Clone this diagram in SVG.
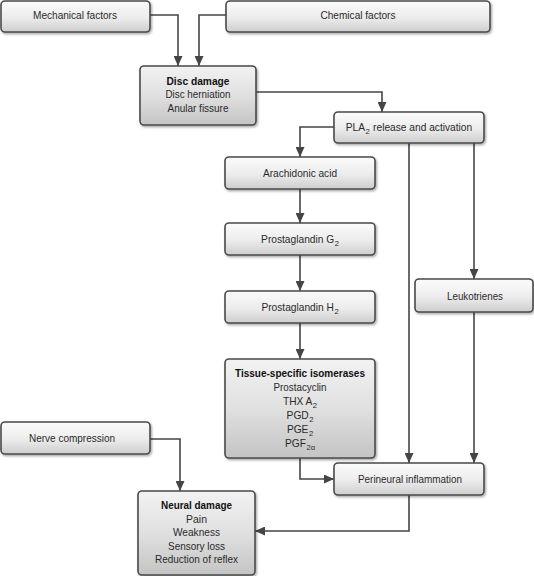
<svg xmlns="http://www.w3.org/2000/svg" width="534" height="576" viewBox="0 0 534 576">
<defs>
<linearGradient id="g" x1="0" y1="0" x2="0" y2="1">
<stop offset="0" stop-color="#fbfbfb"/>
<stop offset="0.55" stop-color="#ececec"/>
<stop offset="1" stop-color="#cdcdcd"/>
</linearGradient>
<linearGradient id="gb" x1="0" y1="0" x2="0" y2="1">
<stop offset="0" stop-color="#f2f2f2"/>
<stop offset="0.5" stop-color="#e0e0e0"/>
<stop offset="1" stop-color="#c4c4c4"/>
</linearGradient>
<filter id="sh" x="-10%" y="-10%" width="130%" height="140%">
<feDropShadow dx="1.2" dy="1.5" stdDeviation="0.9" flood-color="#000" flood-opacity="0.35"/>
</filter>
<marker id="ah" markerUnits="userSpaceOnUse" markerWidth="10" markerHeight="9" refX="10" refY="4.5" orient="auto">
<path d="M0,0 L10,4.5 L0,9 z" fill="#454545"/>
</marker>
</defs>
<style>
.b{fill:url(#g);stroke:#4a4a4a;stroke-width:1.6;filter:url(#sh)}
.bb{fill:url(#gb);stroke:#4a4a4a;stroke-width:1.6;filter:url(#sh)}
text{font-family:"Liberation Sans",Arial,sans-serif;font-size:11px;fill:#2a2a2a;text-anchor:middle}
.n{font-size:10.2px}
.t{font-weight:bold;fill:#111}
.s{font-size:7.6px}
.c{fill:none;stroke:#454545;stroke-width:1.6;marker-end:url(#ah)}
</style>
<g id="connectors">
<path class="c" d="M150,15 H178 V66"/>
<path class="c" d="M226,15 H199 V66"/>
<path class="c" d="M256,92 H382 V112"/>
<path class="c" d="M334,127 H300 V157"/>
<path class="c" d="M300,189 V223"/>
<path class="c" d="M300,255 V291"/>
<path class="c" d="M300,323 V359"/>
<path class="c" d="M409,143 V463"/>
<path class="c" d="M474,143 V279"/>
<path class="c" d="M474,312 V463"/>
<path class="c" d="M300,458 V479 H334"/>
<path class="c" d="M150,439 H180 V491"/>
<path class="c" d="M409,495 V531 H255"/>
</g>
<g id="mechanical">
<rect class="b" x="1" y="1" width="149" height="31" rx="4"/>
<text x="75" y="19" textLength="84" lengthAdjust="spacingAndGlyphs">Mechanical factors</text>
</g>
<g id="chemical">
<rect class="b" x="226" y="1" width="264" height="31" rx="4"/>
<text x="358" y="19" textLength="75" lengthAdjust="spacingAndGlyphs">Chemical factors</text>
</g>
<g id="disc">
<rect class="bb" x="140" y="66" width="116" height="59" rx="4"/>
<text class="t" x="198" y="85" textLength="63" lengthAdjust="spacingAndGlyphs">Disc damage</text>
<text x="198" y="98" textLength="65" lengthAdjust="spacingAndGlyphs">Disc herniation</text>
<text x="198" y="112" textLength="61" lengthAdjust="spacingAndGlyphs">Anular fissure</text>
</g>
<g id="pla2">
<rect class="b" x="334" y="112" width="150" height="31" rx="4"/>
<text class="n" x="409" y="131">PLA<tspan class="s" dx="0.5" dy="3">2</tspan><tspan dx="0.5" dy="-3"> release and activation</tspan></text>
</g>
<g id="arachidonic">
<rect class="b" x="225" y="157" width="150" height="32" rx="4"/>
<text x="300" y="177" textLength="74" lengthAdjust="spacingAndGlyphs">Arachidonic acid</text>
</g>
<g id="pgg2">
<rect class="b" x="225" y="223" width="150" height="32" rx="4"/>
<text class="n" x="300" y="243">Prostaglandin G<tspan class="s" dx="0.5" dy="3">2</tspan></text>
</g>
<g id="pgh2">
<rect class="b" x="225" y="291" width="150" height="32" rx="4"/>
<text class="n" x="300" y="311">Prostaglandin H<tspan class="s" dx="0.5" dy="3">2</tspan></text>
</g>
<g id="leukotrienes">
<rect class="b" x="415" y="279" width="118" height="33" rx="4"/>
<text x="475" y="300" textLength="56" lengthAdjust="spacingAndGlyphs">Leukotrienes</text>
</g>
<g id="isomerases">
<rect class="bb" x="225" y="359" width="150" height="99" rx="4"/>
<text class="t" x="300" y="377" textLength="130" lengthAdjust="spacingAndGlyphs">Tissue-specific isomerases</text>
<text x="300" y="391" textLength="53" lengthAdjust="spacingAndGlyphs">Prostacyclin</text>
<text class="n" x="300" y="405">THX A<tspan class="s" dx="0.5" dy="3">2</tspan></text>
<text class="n" x="300" y="419">PGD<tspan class="s" dx="0.5" dy="3">2</tspan></text>
<text class="n" x="300" y="433">PGE<tspan class="s" dx="0.5" dy="3">2</tspan></text>
<text class="n" x="300" y="447">PGF<tspan class="s" dx="0.5" dy="3">2α</tspan></text>
</g>
<g id="perineural">
<rect class="b" x="334" y="463" width="150" height="32" rx="4"/>
<text x="410" y="483" textLength="104" lengthAdjust="spacingAndGlyphs">Perineural inflammation</text>
</g>
<g id="nerve">
<rect class="b" x="1" y="422" width="149" height="32" rx="4"/>
<text x="72" y="442" textLength="86" lengthAdjust="spacingAndGlyphs">Nerve compression</text>
</g>
<g id="neural">
<rect class="bb" x="138" y="491" width="117" height="84" rx="4"/>
<text class="t" x="196.5" y="509" textLength="71" lengthAdjust="spacingAndGlyphs">Neural damage</text>
<text x="196.5" y="522.5" textLength="21" lengthAdjust="spacingAndGlyphs">Pain</text>
<text x="196.5" y="536" textLength="47" lengthAdjust="spacingAndGlyphs">Weakness</text>
<text x="196.5" y="550" textLength="57" lengthAdjust="spacingAndGlyphs">Sensory loss</text>
<text x="196.5" y="563" textLength="83" lengthAdjust="spacingAndGlyphs">Reduction of reflex</text>
</g>
</svg>
